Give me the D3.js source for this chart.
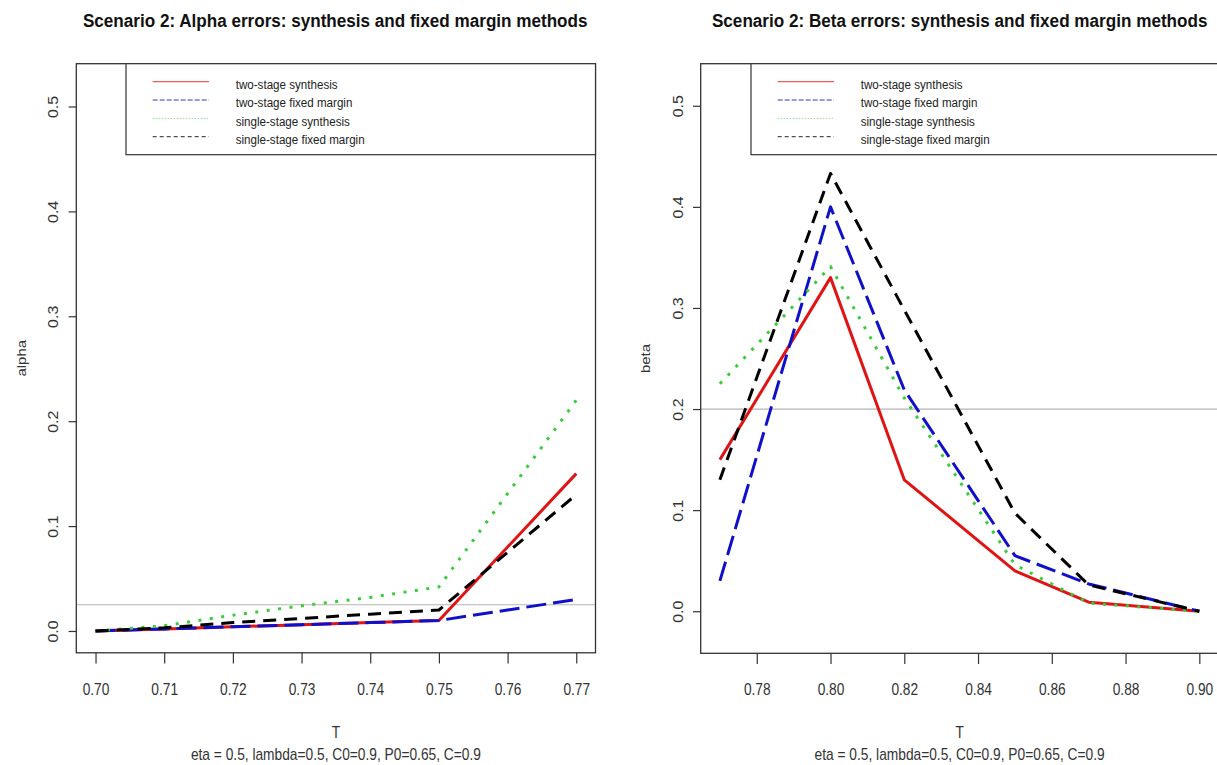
<!DOCTYPE html>
<html><head><meta charset="utf-8">
<script src="https://cdn.jsdelivr.net/npm/d3@7"></script>
<style>
body{margin:0;background:#fff}
svg{display:block}
text{font-family:"Liberation Sans",Arial,sans-serif;fill:#222}
</style></head>
<body><svg id="c" width="1217" height="765"></svg>
<script>
// ---------- data ----------
const seriesNames = ["two-stage synthesis","two-stage fixed margin","single-stage synthesis","single-stage fixed margin"];

const T_alpha = [0.70,0.71,0.72,0.73,0.74,0.75,0.76,0.77];
const alpha_twoSynth    = [0,0.002,0.004,0.006,0.008,0.010,0.080,0.150];
const alpha_twoFixed    = [0,0.002,0.004,0.006,0.008,0.010,0.020,0.030];
const alpha_singleSynth = [0,0.005,0.015,0.024,0.032,0.042,0.131,0.220];
const alpha_singleFixed = [0,0.003,0.008,0.012,0.016,0.020,0.075,0.130];

const T_beta = [0.77,0.80,0.82,0.85,0.87,0.90];
const beta_twoSynth    = [0.150,0.330,0.130,0.040,0.009,0];
const beta_twoFixed    = [0.030,0.400,0.219,0.055,0.027,0];
const beta_singleSynth = [0.225,0.341,0.211,0.046,0.008,0];
const beta_singleFixed = [0.130,0.433,0.298,0.097,0.026,0];

const xTicksAlpha = [0.70,0.71,0.72,0.73,0.74,0.75,0.76,0.77];
const xTicksBeta  = [0.78,0.80,0.82,0.84,0.86,0.88,0.90];
const yTicks      = [0,0.1,0.2,0.3,0.4,0.5];

const titleAlpha = "Scenario 2: Alpha errors: synthesis and fixed margin methods";
const titleBeta  = "Scenario 2: Beta errors: synthesis and fixed margin methods";
const subTitle   = "eta = 0.5, lambda=0.5, C0=0.9, P0=0.65, C=0.9";

// ---------- styles ----------
const colors = ["#e01414","#1010c8","#3acd3a","#000000"];
const dashes = [null,"20,7","3,8.5","13,8"];
const legDashes = [null,"5,2","1,2","4,3"];
const SX = 0.86;

const svg = d3.select("#c");

function panel(cfg){
  const b = cfg.box;
  const xr = cfg.xHi-cfg.xLo, yr = cfg.yHi-cfg.yLo;
  const x = d3.scaleLinear().domain([cfg.xLo-0.04*xr, cfg.xHi+0.04*xr]).range([b.l,b.r]);
  const y = d3.scaleLinear().domain([cfg.yLo-0.04*yr, cfg.yHi+0.04*yr]).range([b.b,b.t]);
  const g = svg.append("g");

  // reference line
  g.append("line").attr("x1",b.l).attr("x2",Math.min(b.r,1217)).attr("y1",y(cfg.hline)).attr("y2",y(cfg.hline))
    .attr("stroke","#b4b4b4").attr("stroke-width",1.2);

  // series
  const line = d3.line().x(d=>x(d[0])).y(d=>y(d[1]));
  cfg.series.forEach((vals,i)=>{
    const pts = cfg.xs.map((t,j)=>[t,vals[j]]);
    g.append("path").attr("d",line(pts)).attr("fill","none")
      .attr("stroke",colors[i]).attr("stroke-width",3)
      .attr("stroke-dasharray",dashes[i]).attr("stroke-linejoin","round");
  });

  // box
  g.append("rect").attr("x",b.l).attr("y",b.t).attr("width",b.r-b.l).attr("height",b.b-b.t)
    .attr("fill","none").attr("stroke","#333").attr("stroke-width",1.3);

  // axes
  const xa = g.append("g").attr("transform",`translate(0,${b.b})`)
    .call(d3.axisBottom(x).tickValues(cfg.xTicks).tickFormat(d3.format(".2f")).tickSize(10.7));
  xa.select(".domain").remove();
  xa.selectAll("line").attr("stroke","#333").attr("stroke-width",1.2);
  xa.selectAll("text").attr("y",0).attr("dy",null)
    .attr("transform",`translate(0,36) scale(${SX},1)`)
    .attr("dominant-baseline","central").style("font-size","16px").style("fill","#333");

  const ya = g.append("g").attr("transform",`translate(${b.l},0)`)
    .call(d3.axisLeft(y).tickValues(yTicks).tickFormat(d3.format(".1f")).tickSize(7.7));
  ya.select(".domain").remove();
  ya.selectAll("line").attr("stroke","#333").attr("stroke-width",1.2);
  ya.selectAll("text").attr("x",0).attr("dy",null).attr("text-anchor","middle")
    .attr("transform",`translate(-23,0) rotate(-90) scale(1,${SX})`)
    .attr("dominant-baseline","central").style("font-size","16px").style("fill","#333");

  // legend
  const lg = g.append("g");
  lg.append("rect").attr("x",cfg.legL).attr("y",b.t).attr("width",b.r-cfg.legL).attr("height",91)
    .attr("fill","#fff").attr("stroke","#333").attr("stroke-width",1.2);
  seriesNames.forEach((nm,i)=>{
    const ly = 81.7+18.33*i;
    lg.append("line").attr("x1",cfg.legL+26.7).attr("x2",cfg.legL+83).attr("y1",ly).attr("y2",ly)
      .attr("stroke",colors[i]).attr("stroke-width",1).attr("stroke-dasharray",legDashes[i]).attr("opacity",0.85);
    lg.append("text").text(nm).attr("transform",`translate(${cfg.legL+109.7},${ly+3}) scale(${SX},1)`)
      .attr("dominant-baseline","central").style("font-size","13.5px").style("fill","#222");
  });

  // titles
  const cx = (b.l+b.r)/2;
  const tcx = cfg.titleX;
  const tt = g.append("text").text(cfg.title).attr("text-anchor","middle")
    .style("font-size","18.5px").style("font-weight","bold").style("fill","#111");
  const natural = tt.node().getComputedTextLength();
  tt.attr("transform",`translate(${tcx},27) scale(${cfg.titleLen/natural},1)`);
  g.append("text").text("T").attr("transform",`translate(${cx},738) scale(${SX},1)`)
    .attr("text-anchor","middle").style("font-size","16px").style("fill","#333");
  g.append("text").text(subTitle).attr("transform",`translate(${cx},760) scale(${SX},1)`)
    .attr("text-anchor","middle").style("font-size","16px").style("fill","#333");
  g.append("text").text(cfg.ylab).attr("transform",`translate(${b.l-55},${(b.t+b.b)/2}) rotate(-90) scale(1,${SX})`)
    .attr("text-anchor","middle").attr("dominant-baseline","central").style("font-size","15px").style("fill","#333");
}

panel({
  box:{l:76.3,r:595.5,t:63.7,b:652.8},
  xLo:0.70,xHi:0.77,yLo:0,yHi:0.52,
  xs:T_alpha, xTicks:xTicksAlpha,
  series:[alpha_twoSynth,alpha_twoFixed,alpha_singleSynth,alpha_singleFixed],
  hline:0.025, legL:126, title:titleAlpha, titleLen:505, titleX:335.2, ylab:"alpha"
});
panel({
  box:{l:700.7,r:1218.5,t:63.7,b:653.3},
  xLo:0.77,xHi:0.90,yLo:-0.02,yHi:0.52,
  xs:T_beta, xTicks:xTicksBeta,
  series:[beta_twoSynth,beta_twoFixed,beta_singleSynth,beta_singleFixed],
  hline:0.2, legL:751, title:titleBeta, titleLen:496, titleX:959.7, ylab:"beta"
});
</script></body></html>
